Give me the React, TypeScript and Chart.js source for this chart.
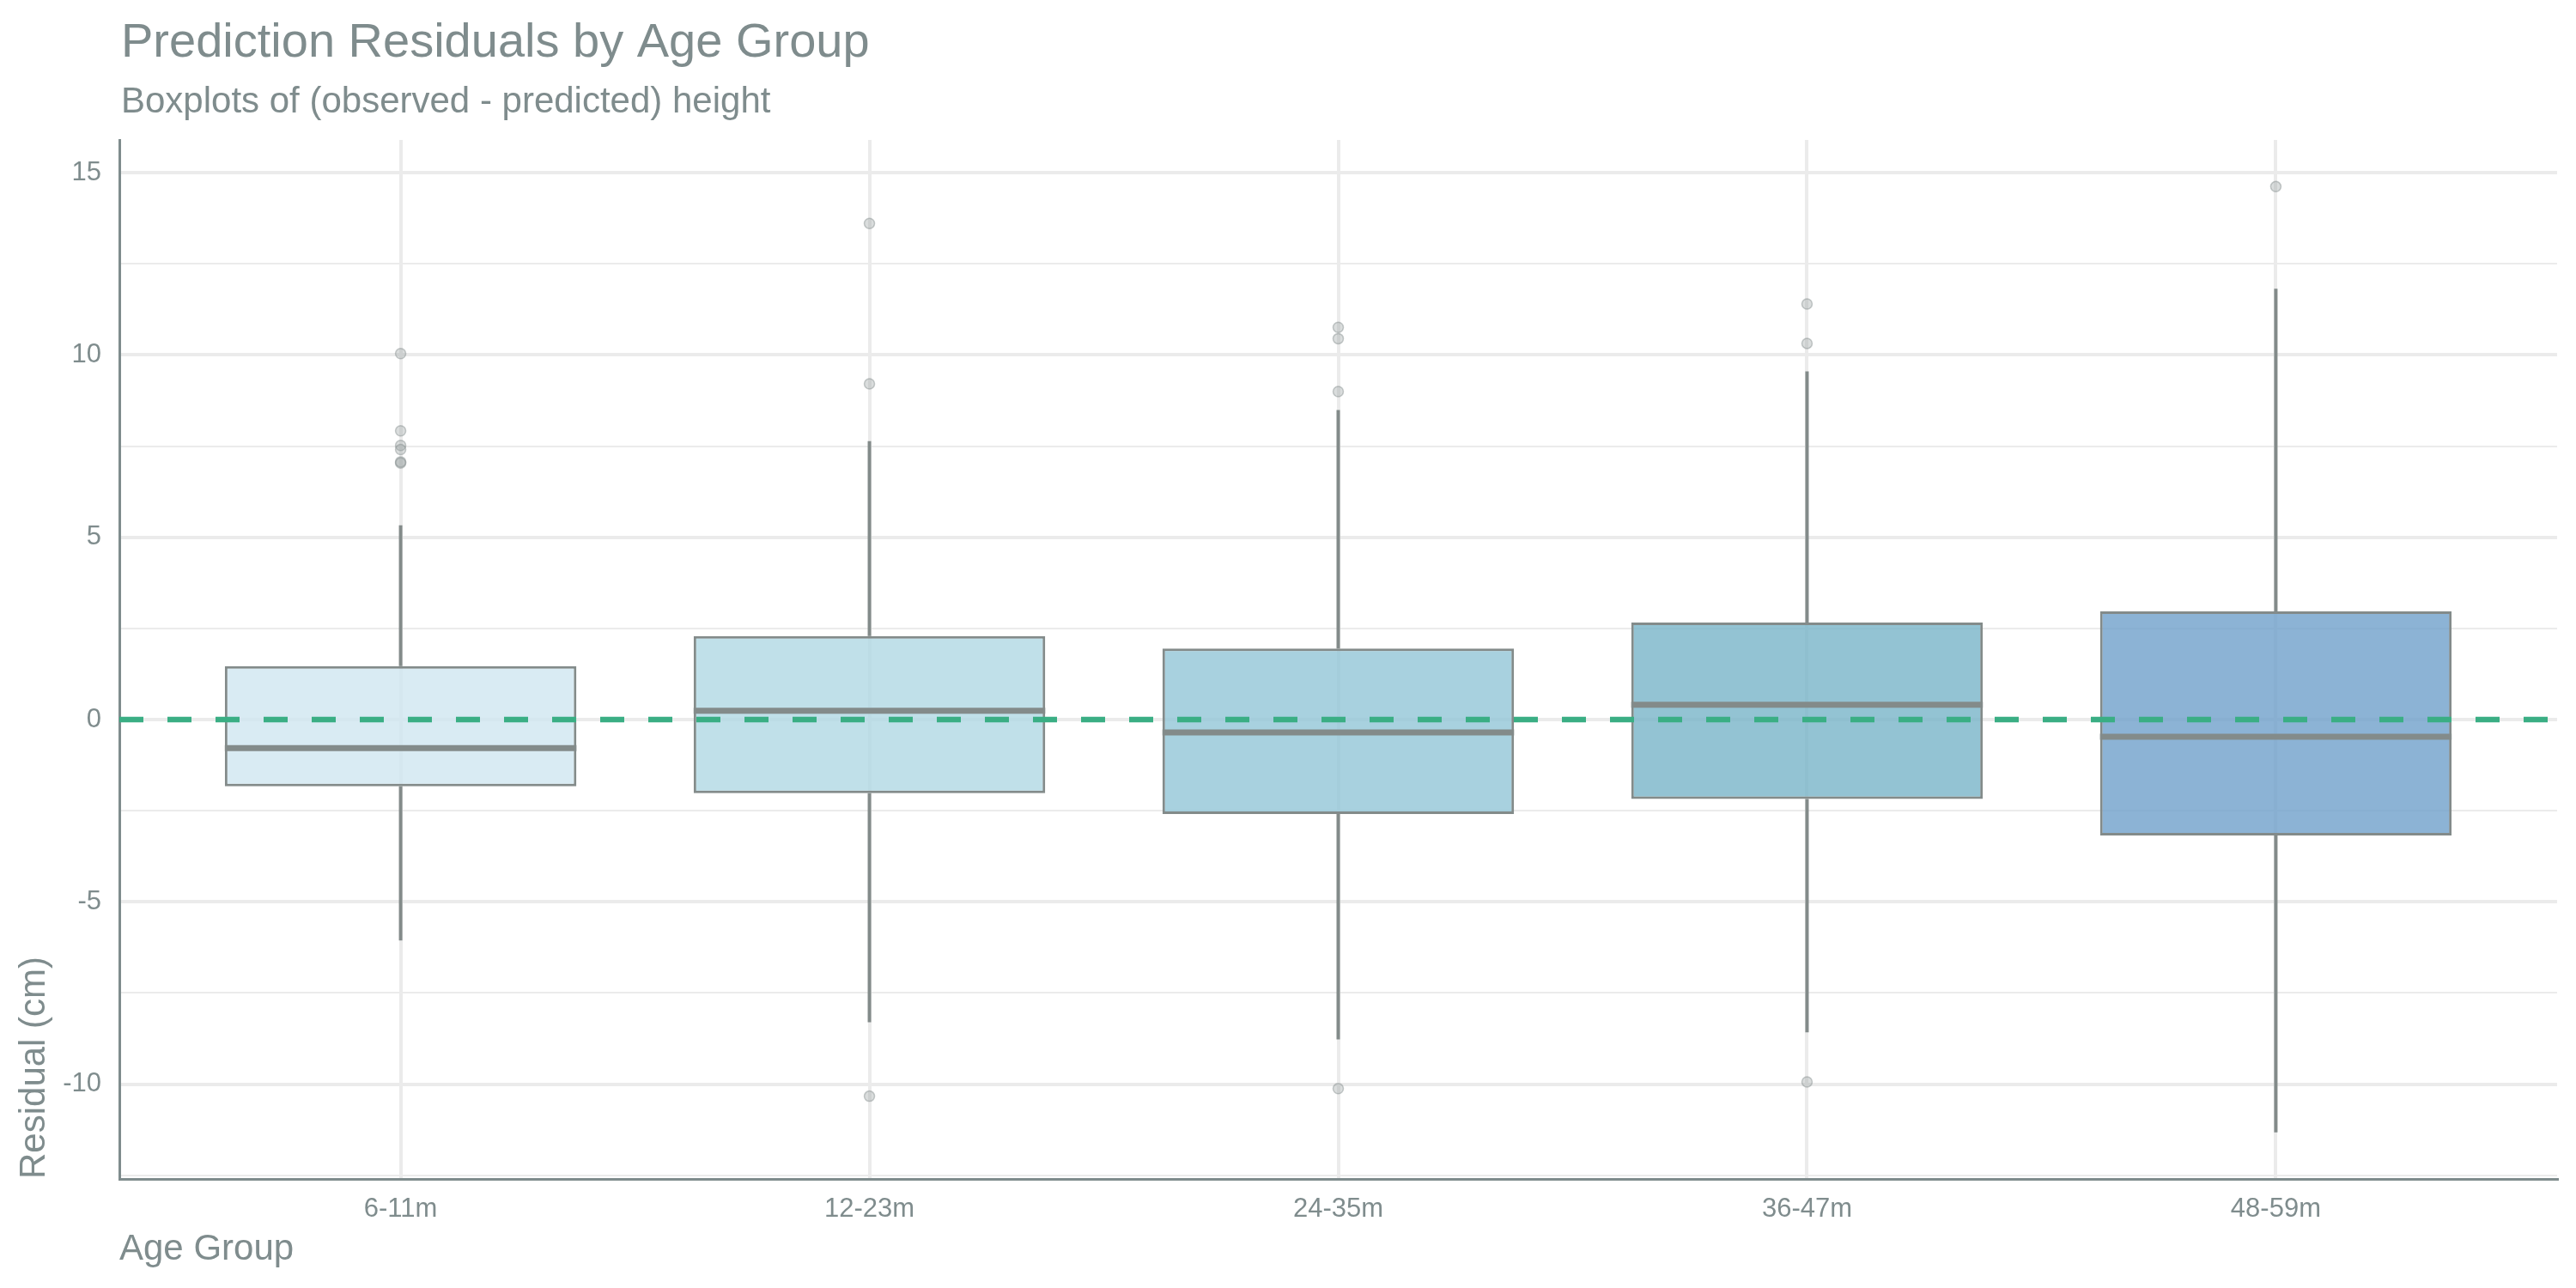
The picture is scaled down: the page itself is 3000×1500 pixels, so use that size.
import React, { useEffect, useRef } from "react";
import { Chart, registerables } from "chart.js";

Chart.register(...registerables);

const TITLE = "Prediction Residuals by Age Group";
const SUBTITLE = "Boxplots of (observed - predicted) height";

const AGE_GROUPS = ["6-11m", "12-23m", "24-35m", "36-47m", "48-59m"];
const WHISKER_LOW = [-6.06, -8.3, -8.77, -8.58, -11.32];
const Q1 = [-1.83, -2.02, -2.59, -2.18, -3.18];
const MEDIAN = [-0.78, 0.24, -0.35, 0.41, -0.47];
const Q3 = [1.47, 2.29, 1.95, 2.66, 2.97];
const WHISKER_HIGH = [5.33, 7.64, 8.49, 9.55, 11.82];
const OUTLIERS = [
  [10.04, 7.92, 7.52, 7.41, 7.07, 7.04],
  [13.61, 9.21, -10.33],
  [10.76, 10.45, 9.0, -10.12],
  [11.4, 10.32, -9.94],
  [14.62],
];
const BOX_COLORS = [
  "rgba(207,230,240,0.8)",
  "rgba(176,216,227,0.8)",
  "rgba(146,197,215,0.8)",
  "rgba(120,180,200,0.8)",
  "rgba(111,160,202,0.8)",
];

const TEXT = "#7f8c8d";
const EDGE = "#838b8a";
const GRID = "#ebebeb";
const FONT = "'Liberation Sans', Arial, sans-serif";

const pos = (i: number) => i + 1;

// medians on top of the boxes, plus the title block
const boxExtras = {
  id: "boxExtras",
  afterDatasetsDraw(chart: any) {
    const { ctx, scales } = chart;
    const meta = chart.getDatasetMeta(2);
    ctx.save();
    ctx.strokeStyle = EDGE;
    ctx.lineWidth = 7;
    meta.data.forEach((bar: any, i: number) => {
      const { x, width } = bar.getProps(["x", "width"], true);
      const py = scales.y.getPixelForValue(MEDIAN[i]);
      ctx.beginPath();
      ctx.moveTo(x - width / 2, py);
      ctx.lineTo(x + width / 2, py);
      ctx.stroke();
    });
    ctx.restore();
  },
  afterDraw(chart: any) {
    const { ctx, chartArea } = chart;
    ctx.save();
    ctx.fillStyle = TEXT;
    ctx.textAlign = "left";
    ctx.textBaseline = "alphabetic";
    ctx.font = `56px ${FONT}`;
    ctx.fillText(TITLE, chartArea.left + 2, 66);
    ctx.font = `42px ${FONT}`;
    ctx.fillText(SUBTITLE, chartArea.left + 2, 131);
    ctx.restore();
  },
};

const App: React.FC = () => {
  const canvasRef = useRef<HTMLCanvasElement | null>(null);
  const chartRef = useRef<Chart | null>(null);

  useEffect(() => {
    document.body.style.margin = "0";
    const ctx = canvasRef.current?.getContext("2d");
    if (!ctx) return;
    if (chartRef.current) chartRef.current.destroy();

    const outlierPoints = OUTLIERS.flatMap((vals, i) =>
      vals.map((v) => ({ x: pos(i), y: v }))
    );

    chartRef.current = new Chart(ctx, {
      type: "bar",
      data: {
        datasets: [
          {
            type: "bar",
            label: "lower whisker",
            data: AGE_GROUPS.map((_, i) => ({ x: pos(i), y: [WHISKER_LOW[i], Q1[i]] })),
            backgroundColor: EDGE,
            borderWidth: 0,
            grouped: false,
            maxBarThickness: 4,
            order: 4,
          },
          {
            type: "bar",
            label: "upper whisker",
            data: AGE_GROUPS.map((_, i) => ({ x: pos(i), y: [Q3[i], WHISKER_HIGH[i]] })),
            backgroundColor: EDGE,
            borderWidth: 0,
            grouped: false,
            maxBarThickness: 4,
            order: 4,
          },
          {
            type: "bar",
            label: "box",
            data: AGE_GROUPS.map((_, i) => ({ x: pos(i), y: [Q1[i], Q3[i]] })),
            backgroundColor: BOX_COLORS,
            borderColor: EDGE,
            borderWidth: 3,
            borderSkipped: false,
            grouped: false,
            categoryPercentage: 1,
            barPercentage: 0.75,
            order: 3,
          },
          {
            type: "scatter",
            label: "outliers",
            data: outlierPoints,
            backgroundColor: "rgba(150,158,158,0.35)",
            borderColor: "rgba(130,140,140,0.45)",
            borderWidth: 1.5,
            pointRadius: 6,
            order: 5,
          },
          {
            type: "line",
            label: "zero",
            data: [
              { x: 0.4, y: 0 },
              { x: 5.6, y: 0 },
            ],
            borderColor: "#3aae84",
            borderWidth: 6.5,
            borderDash: [28, 28],
            pointRadius: 0,
            order: 1,
          },
        ],
      },
      options: {
        animation: false,
        responsive: false,
        devicePixelRatio: 1,
        layout: { padding: { top: 163, left: 0, right: 22, bottom: 0 } },
        plugins: {
          legend: { display: false },
          tooltip: { enabled: false },
        },
        scales: {
          x: {
            type: "linear",
            min: 0.4,
            max: 5.6,
            offset: false,
            afterFit: (scale: any) => {
              scale.height = 127;
            },
            ticks: {
              stepSize: 1,
              includeBounds: false,
              padding: 17,
              color: TEXT,
              font: { family: FONT, size: 31 },
              callback: (v: any) => AGE_GROUPS[Number(v) - 1] ?? "",
            },
            grid: { color: GRID, lineWidth: 4, drawTicks: false, offset: false },
            border: { color: TEXT, width: 3 },
            title: {
              display: true,
              text: "Age Group",
              align: "start",
              color: TEXT,
              font: { family: FONT, size: 42 },
              padding: { top: 0, bottom: 19 },
            },
          },
          y: {
            type: "linear",
            min: -12.6,
            max: 15.9,
            afterFit: (scale: any) => {
              scale.width = 139;
            },
            ticks: {
              stepSize: 2.5,
              includeBounds: false,
              padding: 21,
              color: TEXT,
              font: { family: FONT, size: 31 },
              callback: (v: any) => (Number(v) % 5 === 0 ? String(v) : ""),
            },
            grid: {
              color: GRID,
              lineWidth: (c: any) => (c.tick && c.tick.value % 5 === 0 ? 4 : 2),
              drawTicks: false,
            },
            border: { color: TEXT, width: 3 },
            title: {
              display: true,
              text: "Residual (cm)",
              align: "start",
              color: TEXT,
              font: { family: FONT, size: 42 },
              padding: { top: 15, bottom: 0 },
            },
          },
        },
      },
      plugins: [boxExtras],
    } as any);

    return () => {
      if (chartRef.current) {
        chartRef.current.destroy();
        chartRef.current = null;
      }
    };
  }, []);

  return (
    <div style={{ position: "absolute", left: 0, top: 0, width: 3000, height: 1500, background: "#fff" }}>
      <canvas ref={canvasRef} width={3000} height={1500} />
    </div>
  );
};

export default App;
